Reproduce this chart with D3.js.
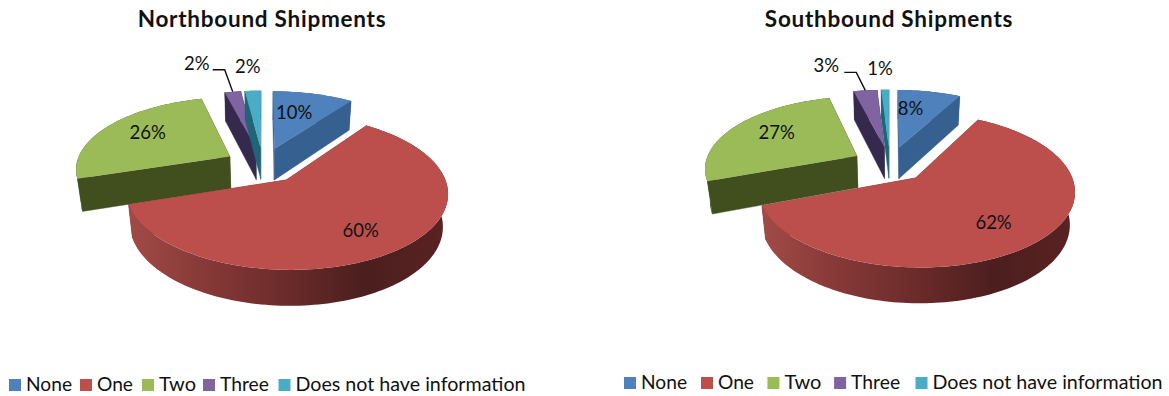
<!DOCTYPE html>
<html><head><meta charset="utf-8">
<script src="https://cdn.jsdelivr.net/npm/d3@7/dist/d3.min.js"></script>
<style>html,body{margin:0;padding:0;background:#fff}svg{display:block}text{font-family:Lato,Carlito,sans-serif;fill:#111}</style>
</head><body><div id="c"></div>
<script>
const categories = ["None","One","Two","Three","Does not have information"];
const northValues = [10,60,26,2,2];
const southValues = [8,62,27,3,1];
const topColors  = ["#4f81bd","#bc4f4c","#9bbb59","#8064a2","#4bacc6"];
const sideColors = ["#35608f","#7d3230","#414f1f","#352a4e","#1f6577"];
const redSideOffsets = [0,0.2,0.5,0.75,1];
const redSideStops = ["#a04a46","#8a3b39","#6a2b2a","#4c1e1e","#5a2222"];
const legendWidths = [46,36,37,49,230];

const W=1169,H=396;
const svg=d3.select("#c").append("svg").attr("width",W).attr("height",H);
const defs=svg.append("defs");
const color=d3.scaleOrdinal(categories,topColors);
const sideColor=d3.scaleOrdinal(categories,sideColors);
const line=d3.line();
const rad=Math.PI/180;

function drawPie(o){
  const kx=o.kx,ky=71,p=0.155,q=0.027,d=33,e=0.25;
  const project=(u,v,h)=>{const w=1-p*v+q*h;return [o.cx+kx*u/w,o.cy+(ky*v+d*h)/w];};
  const arcs=d3.pie().sort(null).value(v=>v)(o.values);
  const g=svg.append("g").style("filter","blur(0.4px)");
  const drawOrder=[3,4,0,2,1];
  const info=arcs.map(a=>{
    const mid=(a.startAngle+a.endAngle)/2;
    return {a,mid,ox:e*Math.sin(mid),oy:-e*Math.cos(mid)};
  });
  drawOrder.forEach(i=>{
    const s=info[i],a=s.a,cat=categories[i];
    const n=Math.max(2,Math.ceil((a.endAngle-a.startAngle)/(1.5*rad)));
    const thetas=d3.range(n+1).map(k=>a.startAngle+(a.endAngle-a.startAngle)*k/n);
    const rim=(t,h)=>project(s.ox+Math.sin(t),s.oy-Math.cos(t),h);
    const apex=h=>project(s.ox,s.oy,h);
    [a.startAngle,a.endAngle].forEach(t=>{
      g.append("path").attr("d",line([apex(0),rim(t,0),rim(t,1),apex(1)])+"Z")
       .attr("fill",sideColor(cat)).attr("stroke",sideColor(cat)).attr("stroke-width",.4);
    });
    let rimFill=sideColor(cat);
    if(i===1){
      const id="redSide"+o.id;
      const xs=thetas.map(t=>rim(t,1)[0]);
      const grad=defs.append("linearGradient").attr("id",id).attr("gradientUnits","userSpaceOnUse")
        .attr("x1",d3.min(xs)).attr("x2",d3.max(xs)).attr("y1",0).attr("y2",0);
      redSideOffsets.forEach((f,k)=>grad.append("stop").attr("offset",f).attr("stop-color",redSideStops[k]));
      rimFill=`url(#${id})`;
    }
    g.append("path").attr("d",line([...thetas.map(t=>rim(t,0)),...thetas.slice().reverse().map(t=>rim(t,1))])+"Z")
      .attr("fill",rimFill);
    g.append("path").attr("d",line([apex(0),...thetas.map(t=>rim(t,0))])+"Z").attr("fill",color(cat));
  });
  info.forEach((s,i)=>{
    const [rho,dx,dy]=o.labels[i];
    const pt=project(s.ox+rho*Math.sin(s.mid),s.oy-rho*Math.cos(s.mid),0);
    svg.append("text").attr("x",pt[0]+dx).attr("y",pt[1]+dy).attr("text-anchor","middle")
      .attr("dominant-baseline","central").attr("font-size",18.5).text(o.values[i]+"%");
  });
  const s=info[3];
  const end=project(s.ox+Math.sin(s.mid),s.oy-Math.cos(s.mid),0);
  svg.append("path").attr("d",line([[end[0]-o.leader[0],end[1]-o.leader[2]],[end[0]-o.leader[1],end[1]-o.leader[2]],end]))
    .attr("fill","none").attr("stroke","#111").attr("stroke-width",1.4);
  svg.append("text").attr("x",o.titleX).attr("y",27).attr("text-anchor","middle")
    .attr("font-size",22.5).attr("letter-spacing",0.75).attr("font-weight",700).text(o.title);
  let x=o.legendX;
  categories.forEach((c,i)=>{
    svg.append("rect").attr("x",x).attr("y",o.legendY).attr("width",12).attr("height",12).attr("fill",color(c));
    svg.append("text").attr("x",x+17).attr("y",o.legendY+12).attr("font-size",19.5)
      .attr("textLength",legendWidths[i]).attr("lengthAdjust","spacingAndGlyphs").text(c);
    x+=o.legendSteps[i];
  });
}

drawPie({id:"N",kx:154,title:"Northbound Shipments",titleX:262,values:northValues,cx:263,cy:165,legendX:9,legendY:379,
  legendSteps:[71,62,61,75.5,0],leader:[20,8,22],
  labels:[[0.58,-4,-3],[0.7,0,3],[0.62,-5,-5],[1,-36,-29],[1,-5,-25]]});
drawPie({id:"S",kx:152,title:"Southbound Shipments",titleX:889,values:southValues,cx:890,cy:164,legendX:624,legendY:377,
  legendSteps:[77,66.4,66.7,81.4,0],leader:[21,9,18],
  labels:[[0.58,-7,-5],[0.7,-3,1],[0.62,-3,-5],[1,-39,-25],[1,-5,-22]]});
</script></body></html>
